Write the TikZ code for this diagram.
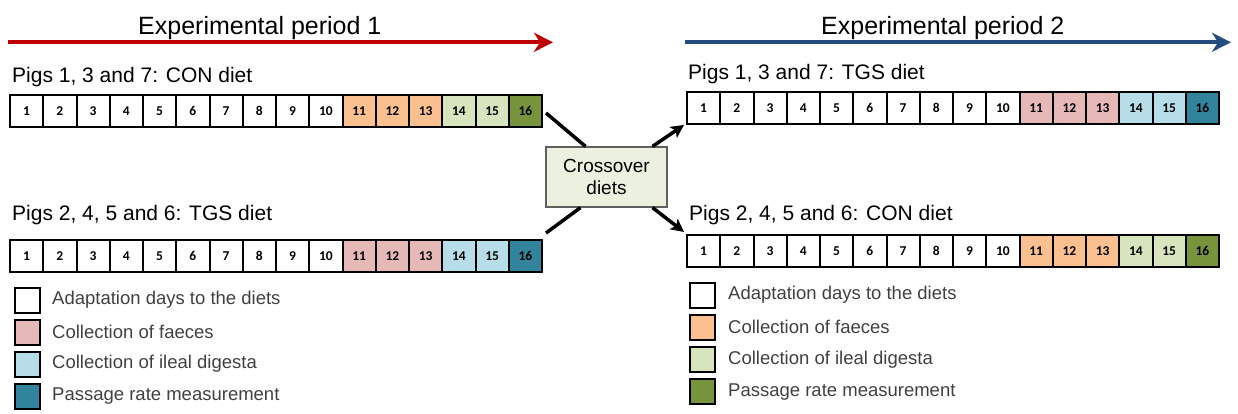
\documentclass[tikz,border=0pt]{standalone}
\usepackage{fontspec}
\setmainfont{Liberation Sans}
\newfontfamily\cellfont{Carlito}
\usetikzlibrary{arrows.meta,calc}
\definecolor{W}{HTML}{FFFFFF}
\definecolor{OR}{HTML}{FAC090}
\definecolor{LG}{HTML}{D7E4BD}
\definecolor{DG}{HTML}{77933C}
\definecolor{PK}{HTML}{E6B9B8}
\definecolor{LB}{HTML}{B7DEE8}
\definecolor{TL}{HTML}{31849B}
\definecolor{XB}{HTML}{EBF1DE}
\definecolor{XE}{HTML}{5F5F5F}
\definecolor{RD}{HTML}{C00000}
\definecolor{BL}{HTML}{254C80}
\definecolor{LT}{HTML}{404040}
\tikzset{
  cell/.style={draw=black, line width=2pt, minimum width=33.25pt, minimum height=32pt,
    inner sep=0pt, font=\cellfont\bfseries\fontsize{13.5}{14}\selectfont},
  legbox/.style={draw=black, line width=2pt, minimum width=25pt, minimum height=25pt, inner sep=0pt},
  legtext/.style={anchor=west, text=LT, inner sep=0pt, font=\fontsize{18.5}{20}\selectfont},
  grouplabel/.style={anchor=base west, inner sep=0pt, font=\fontsize{21}{23}\selectfont},
  title/.style={anchor=base west, inner sep=0pt, font=\fontsize{25}{27}\selectfont},
  period/.style={line width=4pt, -{Stealth[length=19pt,width=19pt,inset=6pt]}},
  conn/.style={line width=3.5pt},
  connarrow/.style={line width=3.5pt, -{Stealth[length=13pt,width=13pt,inset=3pt]}},
  crossbox/.style={draw=XE, fill=XB, line width=1.2pt, minimum width=121pt, minimum height=60pt,
    align=center, font=\fontsize{19}{22}\selectfont}
}
\begin{document}
\begin{tikzpicture}[x=1pt,y=-1pt]
\useasboundingbox (0,0) rectangle (1238,413);

% period arrows and titles
\coordinate (r0) at (8,42.3);
\coordinate (r1) at (553,42.3);
\coordinate (b0) at (685,42.3);
\coordinate (b1) at (1231,42.3);
\draw[period, draw=RD, fill=RD] (r0) -- (r1);
\draw[period, draw=BL, fill=BL] (b0) -- (b1);
\node[title] (t1) at (138,34) {Experimental period 1};
\node[title] (t2) at (821,34) {Experimental period 2};

% group labels
\node[grouplabel] (g1) at (12,82) {Pigs 1, 3 and 7: CON diet};
\node[grouplabel] (g2) at (12,220) {Pigs 2, 4, 5 and 6: TGS diet};
\node[grouplabel] (g3) at (688,79) {Pigs 1, 3 and 7: TGS diet};
\node[grouplabel] (g4) at (689,220) {Pigs 2, 4, 5 and 6: CON diet};

% bars
\foreach \col [count=\i] in {W,W,W,W,W,W,W,W,W,W,OR,OR,OR,LG,LG,DG}
  \node[cell, fill=\col] (a\i) at ({10+(\i-0.5)*33.25}, 111) {\i};
\foreach \col [count=\i] in {W,W,W,W,W,W,W,W,W,W,PK,PK,PK,LB,LB,TL}
  \node[cell, fill=\col] (b\i) at ({10+(\i-0.5)*33.25}, 256) {\i};
\foreach \col [count=\i] in {W,W,W,W,W,W,W,W,W,W,PK,PK,PK,LB,LB,TL}
  \node[cell, fill=\col] (c\i) at ({687+(\i-0.5)*33.25}, 108) {\i};
\foreach \col [count=\i] in {W,W,W,W,W,W,W,W,W,W,OR,OR,OR,LG,LG,DG}
  \node[cell, fill=\col] (d\i) at ({687+(\i-0.5)*33.25}, 251) {\i};

% crossover
\node[crossbox] (cross) at (606.5,177) {Crossover\\diets};
\draw[conn] ([shift={(3,2)}]a16.east) -- ([xshift=-21pt]cross.north);
\draw[conn] ([shift={(3,-6)}]b16.north east) -- ([xshift=-26pt]cross.south);
\draw[connarrow] ([xshift=46pt]cross.north) -- ([shift={(-2,0)}]c1.south west);
\draw[connarrow] ([xshift=46pt]cross.south) -- ([shift={(-2,-2)}]d1.north west);

% legend left
\foreach \col/\txt [count=\i] in {W/Adaptation days to the diets, PK/Collection of faeces, LB/Collection of ileal digesta, TL/Passage rate measurement}{
  \node[legbox, fill=\col] (la\i) at (27.5,{300+(\i-1)*32}) {};
  \node[legtext] (lt\i) at (52,{300+(\i-1)*32}) {\txt};
}
% legend right
\foreach \col/\txt [count=\i] in {W/Adaptation days to the diets, OR/Collection of faeces, LG/Collection of ileal digesta, DG/Passage rate measurement}{
  \node[legbox, fill=\col] (ra\i) at (702.5,{295+(\i-1)*32.3}) {};
  \node[legtext] (rt\i) at (728,{295+(\i-1)*32.3}) {\txt};
}
\end{tikzpicture}
\end{document}
